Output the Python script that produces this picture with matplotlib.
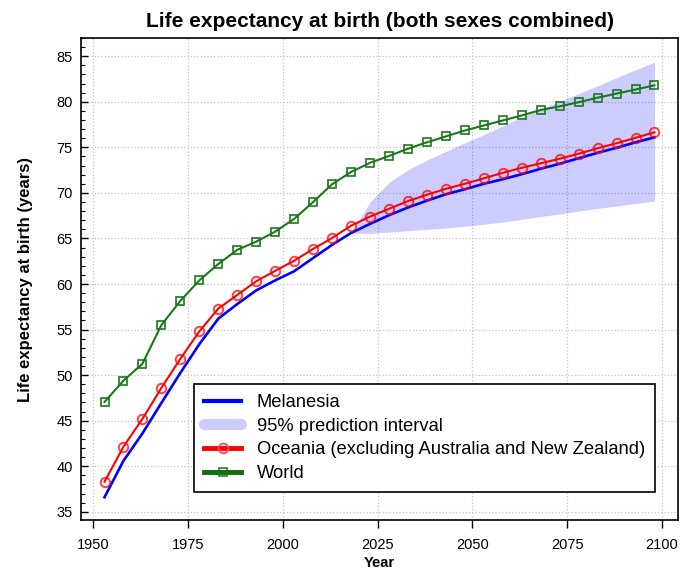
import matplotlib
matplotlib.use("Agg")
import matplotlib.pyplot as plt
from matplotlib.lines import Line2D
from matplotlib.ticker import MultipleLocator
import numpy as np

plt.rcParams['font.family'] = ['Liberation Sans', 'DejaVu Sans']

years = list(range(1953, 2099, 5))
melanesia = [36.6, 40.6, 43.6, 46.95, 50.25, 53.4, 56.2, 57.8, 59.3, 60.4,
             61.4, 62.85, 64.3, 65.6, 66.6, 67.55, 68.4, 69.15, 69.85, 70.4,
             71.0, 71.5, 72.05, 72.65, 73.2, 73.8, 74.4, 74.95, 75.55, 76.1]
oceania = [38.3, 42.15, 45.2, 48.6, 51.8, 54.8, 57.3, 58.8, 60.3, 61.45,
           62.55, 63.85, 65.05, 66.4, 67.4, 68.25, 69.1, 69.8, 70.45, 71.0,
           71.6, 72.2, 72.75, 73.25, 73.75, 74.3, 74.9, 75.45, 76.05, 76.65]
world = [47.05, 49.4, 51.25, 55.5, 58.15, 60.4, 62.2, 63.75, 64.65, 65.75,
         67.15, 69.0, 70.95, 72.3, 73.3, 74.05, 74.85, 75.55, 76.2, 76.85,
         77.4, 77.95, 78.5, 79.1, 79.5, 79.95, 80.45, 80.9, 81.35, 81.8]

band_years = list(range(2018, 2099, 5))
band_low = [65.6, 65.55, 65.7, 65.85, 66.0, 66.15, 66.35, 66.55, 66.8, 67.1,
            67.4, 67.7, 68.0, 68.3, 68.55, 68.85, 69.1]
band_high = [65.6, 69.0, 71.15, 72.55, 73.6, 74.55, 75.5, 76.4, 77.35, 78.3,
             79.2, 80.05, 80.9, 81.75, 82.65, 83.5, 84.35]

title = "Life expectancy at birth (both sexes combined)"
xlabel = "Year"
ylabel = "Life expectancy at birth (years)"
labels = ["Melanesia", "95% prediction interval",
          "Oceania (excluding Australia and New Zealand)", "World"]
xticks = [1950, 1975, 2000, 2025, 2050, 2075, 2100]
yticks = [35, 40, 45, 50, 55, 60, 65, 70, 75, 80, 85]

blue = '#0000ff'
red = '#ff0000'
green = '#1a781a'
band_color = (0.0, 0.0, 1.0, 0.2)

fig = plt.figure(figsize=(6.96, 5.68), dpi=100)
ax = fig.add_axes([81/696, 1-520/568, (678-81)/696, (520-38)/568])

ax.grid(True, which='major', linestyle=':', color='#c4c4c4', linewidth=0.9)
ax.set_axisbelow(True)

ax.fill_between(band_years, band_low, band_high, color=band_color,
                linewidth=0, zorder=2)
ax.plot(years, melanesia, color=blue, lw=1.9, zorder=3)
ax.plot(years, oceania, color=red, lw=1.5, marker='o', markersize=6.8,
        markerfacecolor='none', markeredgecolor=(1, 0, 0, 0.75),
        markeredgewidth=1.4, zorder=4)
ax.plot(years, world, color=green, lw=1.5, marker='s', markersize=5.8,
        markerfacecolor='none', markeredgecolor=green,
        markeredgewidth=1.2, zorder=5)

ax.set_xlim(1946.8, 2104.2)
ax.set_ylim(34.1, 87.0)
ax.set_xticks(xticks)
ax.set_yticks(yticks)
ax.yaxis.set_minor_locator(MultipleLocator(1))
ax.tick_params(axis='x', which='major', direction='out', length=6, width=1.0,
               pad=7, labelsize=10.5, colors='black')
ax.tick_params(axis='y', which='major', direction='in', length=5, width=1.0,
               pad=6, labelsize=10.5)
ax.tick_params(axis='y', which='minor', direction='in', length=3, width=0.8)
for s in ax.spines.values():
    s.set_linewidth(1.2)
    s.set_color('black')

ax.set_title(title, fontsize=15, fontweight='bold', pad=8)
ax.set_xlabel(xlabel, fontsize=10.5, fontweight='bold', labelpad=2.5)
ax.set_ylabel(ylabel, fontsize=12, fontweight='bold', labelpad=17)

handles = [
    Line2D([], [], color=blue, lw=3),
    Line2D([], [], color='#ccccff', lw=8, solid_capstyle='round'),
    Line2D([], [], color=red, lw=3.5, marker='o', markersize=7,
           markerfacecolor='none', markeredgecolor=(1, 0.3, 0.3), markeredgewidth=1.3),
    Line2D([], [], color='#0e6b0e', lw=3.5, marker='s', markersize=6,
           markerfacecolor='none', markeredgecolor=green, markeredgewidth=1.1),
]
leg = ax.legend(handles, labels, loc='lower right',
                bbox_to_anchor=(0.9615, 0.058), fontsize=13.2,
                frameon=True, fancybox=False, edgecolor='black',
                framealpha=1, borderpad=0.55, labelspacing=0.36,
                handlelength=2.0, handletextpad=0.85, borderaxespad=0)
leg.get_frame().set_linewidth(1.2)

fig.savefig('out.png', dpi=100)
